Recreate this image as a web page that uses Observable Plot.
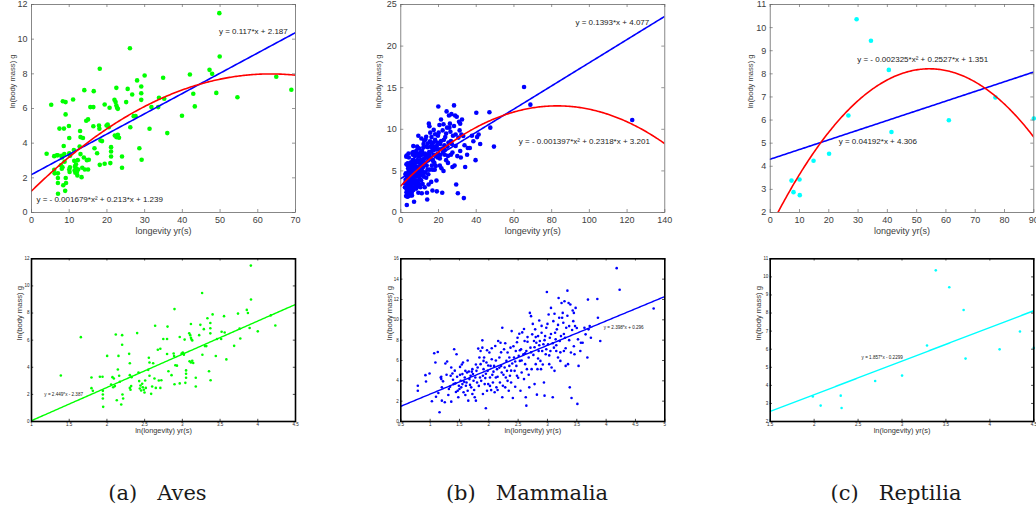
<!DOCTYPE html>
<html><head><meta charset="utf-8">
<script src="https://cdn.jsdelivr.net/npm/d3@7"></script>
<script src="https://cdn.jsdelivr.net/npm/@observablehq/plot@0.6"></script>
<style>
body{margin:0;background:#fff;}
#fig{position:relative;width:1036px;height:511px;overflow:hidden;background:#fff;}
#fig svg{position:absolute;}
</style></head><body><div id="fig"></div><script>
// ---------- DATA ----------
// Aves: [longevity (yr), ln(body mass)]
const aves = [[4.01,3.39],[5.23,6.22],[6.02,3.25],[6.02,2.46],[6.13,2.26],[6.73,3.30],[6.97,3.30],[7.00,2.26],[7.00,1.99],[7.00,1.70],
[7.03,1.08],[7.41,4.84],[7.81,2.73],[7.95,3.27],[8.03,2.53],[8.10,3.17],[8.21,2.61],[8.31,6.42],[8.42,1.57],[8.54,3.84],
[8.61,4.84],[8.69,3.37],[8.77,2.93],[8.93,1.25],[9.04,6.37],[9.04,5.66],[9.08,1.99],[9.16,1.70],[9.92,4.99],[10.01,4.30],
[10.01,3.42],[10.01,2.48],[10.10,2.34],[10.19,2.61],[10.24,3.27],[11.03,6.52],[11.23,3.61],[11.33,2.98],[11.43,2.43],[11.53,2.66],
[11.63,2.29],[11.79,2.78],[11.89,2.53],[12.05,2.34],[12.16,2.14],[12.27,3.02],[12.38,2.48],[12.77,3.81],[12.88,4.70],[12.99,4.35],
[12.99,3.37],[13.28,2.04],[13.46,2.58],[13.64,4.30],[13.88,3.17],[14.00,7.06],[14.13,2.48],[14.51,5.29],[14.70,3.02],
[15.0,5.37],[15.2,3.04],[15.0,2.48],[15.6,6.08],[16.4,6.08],[16.5,7.0],[16.4,4.98],[16.7,3.71],[17.4,3.42],[17.9,5.02],
[18.1,8.29],[18.0,4.83],[18.1,2.75],[18.3,4.15],[18.7,4.12],[19.4,6.23],[19.4,2.81],[19.9,5.02],[20.2,5.08],[20.5,4.92],
[20.7,6.04],[20.9,2.85],[21.1,3.77],[21.1,3.52],[21.1,3.23],[22.0,6.5],[22.5,7.19],[22.3,6.37],[22.5,6.17],[22.7,6.04],
[22.9,5.98],[22.1,4.44],[22.5,4.35],[22.9,4.48],[23.2,4.31],[24.0,3.23],[24.0,2.58],[25.1,6.37],[25.5,7.13],[26.1,9.48],
[26.2,4.92],[26.7,6.81],[27.1,5.56],[27.6,5.56],[28.0,7.62],[28.6,3.71],[29.1,7.27],[29.1,6.88],[29.1,6.5],[29.2,3.04],
[30.0,7.9],[31.3,4.83],[31.8,6.08],[33.8,6.62],[33.6,6.08],[34.9,7.77],[35.2,6.56],[36.0,4.58],[39.9,5.58],[42.0,7.96],
[42.9,6.85],[43.3,6.12],[47.2,8.23],[47.9,8.0],[49.0,6.9],[49.8,11.5],[49.9,9.0],[54.6,6.65],[64.9,7.83],[68.9,7.08]];

// Mammalia: [ln(longevity), ln(body mass)]
const mammalia = [[0.79,3.52],[0.79,3.03],[0.92,4.56],[0.93,3.94],[0.99,4.72],[1.03,1.99],[1.07,6.71],[1.09,5.80],[1.10,2.44],[1.13,6.84],
[1.14,2.80],[1.16,0.91],[1.18,4.33],[1.19,4.40],[1.19,4.17],[1.20,3.36],[1.20,2.05],[1.25,1.89],[1.26,5.70],[1.29,5.90],
[1.32,3.19],[1.34,3.42],[1.35,4.50],[1.36,5.31],[1.36,1.95],[1.38,4.72],[1.40,3.68],[1.41,7.10],[1.43,3.75],[1.45,6.61],
[1.47,3.03],[1.48,2.38],[1.49,3.52],[1.51,5.37],[1.51,4.59],[1.52,4.01],[1.53,3.36],[1.55,4.66],[1.55,3.68],[1.56,5.80],
[1.57,2.87],[1.59,4.33],[1.60,4.98],[1.61,3.52],[1.62,3.84],[1.63,4.82],[1.64,3.03],[1.65,2.05],[1.66,4.92],[1.67,4.17],
[1.69,4.50],[1.70,3.36],[1.72,2.70],[1.72,5.15],[1.73,4.66],[1.74,4.01],[1.76,2.38],[1.77,4.33],[1.78,2.05],[1.79,4.98],
[1.80,3.84],[1.81,5.31],[1.82,7.17],[1.84,6.29],[1.85,4.33],[1.86,6.94],[1.86,5.64],[1.89,7.98],[1.89,7.26],[1.90,4.50],
[1.91,5.96],[1.91,5.15],[1.93,3.68],[1.94,4.27],[1.95,1.30],[1.96,5.80],[1.97,7.00],[1.97,3.03],[1.98,4.98],[1.99,3.68],
[2.01,6.78],[2.02,4.33],[2.03,5.47],[2.04,3.09],[2.05,6.12],[2.06,4.59],[2.07,3.84],[2.09,5.47],[2.10,2.87],[2.11,7.43],
[2.12,4.33],[2.13,3.36],[2.14,5.15],[2.15,4.40],[2.16,7.92],[2.18,6.29],[2.19,3.84],[2.20,7.75],[2.21,5.47],[2.22,4.82],
[2.23,2.38],[2.23,9.22],[2.24,3.52],[2.26,7.10],[2.27,5.31],[2.28,3.36],[2.29,4.33],[2.30,5.96],[2.31,4.98],[2.32,6.78],
[2.34,3.03],[2.35,5.47],[2.36,4.50],[2.37,7.26],[2.38,3.84],[2.39,8.89],[2.40,5.70],[2.41,2.31],[2.43,6.29],[2.44,4.98],
[2.45,3.42],[2.46,6.94],[2.47,5.47],[2.48,4.50],[2.49,8.24],[2.51,6.45],[2.52,8.63],[2.53,5.96],[2.54,3.03],[2.55,7.10],
[2.56,4.82],[2.57,8.76],[2.59,6.61],[2.60,4.17],[2.61,7.92],[2.62,5.64],[2.63,2.38],[2.64,1.56],[2.64,6.94],[2.65,5.15],
[2.66,7.85],[2.68,6.29],[2.69,3.36],[2.70,10.68],[2.71,7.26],[2.72,10.36],[2.73,5.15],[2.74,8.57],[2.76,6.55],[2.77,7.92],
[2.78,3.68],[2.79,9.06],[2.80,5.64],[2.81,7.75],[2.82,2.64],[2.83,5.15],[2.84,8.40],[2.85,6.94],[2.86,9.93],[2.87,7.92],
[2.88,5.96],[2.89,5.15],[2.90,8.73],[2.91,6.94],[2.93,7.59],[2.94,3.84],[2.95,2.54],[2.96,8.40],[2.97,6.61],[2.98,9.22],
[2.99,12.74],[3.01,7.59],[3.02,10.52],[3.03,5.64],[3.04,8.24],[3.05,6.94],[3.06,11.17],[3.07,5.31],[3.09,2.38],[3.10,9.87],
[3.11,7.26],[3.12,4.98],[3.13,8.73],[3.14,8.08],[3.15,6.94],[3.16,9.06],[3.18,6.29],[3.19,12.15],[3.20,10.20],[3.21,7.92],
[3.22,5.96],[3.23,8.40],[3.24,11.66],[3.26,10.68],[3.27,9.71],[3.28,6.94],[3.29,11.82],[3.30,8.24],[3.31,5.47],[3.32,9.22],
[3.34,12.87],[3.35,5.64],[3.36,11.66],[3.37,9.38],[3.38,3.36],[3.39,11.50],[3.40,6.78],[3.41,2.31],[3.43,10.91],[3.44,9.87],
[3.45,10.68],[3.46,6.61],[3.47,9.38],[3.48,11.17],[3.51,1.73],[3.52,8.08],[3.53,5.47],[3.56,6.94],[3.57,7.75],[3.60,7.75],
[3.63,9.22],[3.65,8.57],[3.68,6.29],[3.69,11.99],[3.70,9.06],[3.72,9.38],[3.74,8.24],[3.85,12.05],[3.86,10.20],[3.90,7.92],
[4.18,15.08],[4.23,12.96],[4.81,11.11],
[1.22,3.95],[1.28,4.6],[1.31,2.6],[1.39,4.1],[1.42,5.0],[1.44,2.9],[1.46,4.4],[1.5,3.2],[1.54,5.6],[1.58,3.9],
[1.6,2.6],[1.64,6.0],[1.68,3.6],[1.71,4.9],[1.75,3.1],[1.78,5.6],[1.83,3.5],[1.87,4.0],[1.9,2.7],[1.92,6.3],
[1.95,4.7],[1.99,5.5],[2.02,3.5],[2.05,7.2],[2.08,4.9],[2.12,6.0],[2.15,3.1],[2.18,5.3],[2.21,6.8],[2.25,4.6],
[2.28,7.7],[2.32,4.0],[2.35,6.3],[2.38,5.0],[2.42,7.4],[2.45,5.9],[2.48,7.8],[2.5,4.3],[2.53,7.0],[2.56,6.0],
[2.6,9.1],[2.62,6.7],[2.66,8.3],[2.68,4.6],[2.72,6.8],[2.75,9.6],[2.78,7.3],[2.8,8.3],[2.84,6.2],[2.86,7.5],
[2.9,9.4],[2.92,5.6],[2.95,8.0],[2.98,7.1],[3.0,9.6],[3.03,6.5],[3.06,8.6],[3.09,7.7],[3.12,10.6],[3.15,7.5],
[3.18,9.5],[3.22,6.8],[3.25,10.2],[3.28,8.6],[3.31,7.2],[3.34,10.4],[3.37,8.0],[3.42,9.0],[3.45,7.4],[3.5,9.2]];

// Reptilia: [longevity (yr), ln(body mass)]
const reptilia = [[7.28,3.38],[7.96,2.88],[10.0,3.43],[10.1,2.75],[14.8,4.24],[20.1,4.54],[26.7,6.20],[29.5,10.36],[34.4,9.43],
[40.5,8.17],[41.4,5.48],[61.0,5.99],[76.9,6.98],[90.0,6.07]];

// fit coefficients (as printed on the chart)
const avesLin = [0.117, 2.187], avesQuad = [-0.001679, 0.213, 1.239], avesLog = [2.449, -2.387];
const mamLin = [0.1393, 4.077], mamQuad = [-0.001397, 0.2318, 3.201], mamLog = [2.398, 0.296];
const repLin = [0.04192, 4.306], repQuad = [-0.002325, 0.2527, 1.351], repLog = [1.857, -0.2299];

const avesEq = ["y = 0.117*x + 2.187", "y = - 0.001679*x² + 0.213*x + 1.239", "y = 2.449*x - 2.387"];
const mamEq = ["y = 0.1393*x + 4.077", "y = - 0.001397*x² + 0.2318*x + 3.201", "y = 2.398*x + 0.296"];
const repEq = ["y = 0.04192*x + 4.306", "y = - 0.002325*x² + 0.2527*x + 1.351", "y = 1.857*x - 0.2299"];

// ticks
const avesXTicks = [0,10,20,30,40,50,60,70], avesYTicks = [0,2,4,6,8,10,12];
const mamXTicks = [0,20,40,60,80,100,120,140], mamYTicks = [0,5,10,15,20,25];
const repXTicks = [0,10,20,30,40,50,60,70,80,90], repYTicks = [2,3,4,5,6,7,8,9,10,11];
const avesLXTicks = [1,1.5,2,2.5,3,3.5,4,4.5], avesLYTicks = [0,2,4,6,8,10,12];
const mamLXTicks = [0.5,1,1.5,2,2.5,3,3.5,4,4.5,5], mamLYTicks = [0,2,4,6,8,10,12,14,16];
const repLXTicks = [1.5,2,2.5,3,3.5,4,4.5], repLYTicks = [2,3,4,5,6,7,8,9,10,11];

const captions = ["(a)   Aves", "(b)   Mammalia", "(c)   Reptilia"];

// ---------- DRAWING ----------
const fig = document.getElementById("fig");
const FONT = "'Liberation Sans', Arial, Helvetica, sans-serif";
const lin = c => x => c[0] * x + c[1];
const quad = c => x => c[0] * x * x + c[1] * x + c[2];
const samples = (a, b) => d3.range(a, b + 1e-9, (b - a) / 200);

const TOP = {top: 0, height: 245, mt: 4, mb: 33, tickLen: 3, tickWidth: 0.7, frameColor: "#6a6a6a", frameWidth: 0.8,
  axisColor: "#6a6a6a", tickColor: "#404040", labelColor: "#404040", tickFont: 9, xPad: 4, yPad: 4,
  xLabel: "longevity yr(s)", xLabelDy: 21, xLabelFont: 9, yLabel: "ln(body mass) g", yLabelFont: 7.6};
const BOT = {top: 250, height: 190, mt: 8.3, mb: 19, tickLen: 2.2, tickWidth: 0.7, frameColor: "#000", frameWidth: 1.6,
  axisColor: "#000", tickColor: "#222", labelColor: "#333", tickFont: 4.5, xPad: 1.6, yPad: 2,
  xLabel: "ln(longevity) yr(s)", xLabelDy: 11, xLabelFont: 7.4, yLabel: "ln(body mass) g", yLabelFont: 7.6};
const COLS = [
  {left: 0, width: 310, ml: 31, mr: 15},
  {left: 340, width: 345, ml: 60.3, mr: 20.7},
  {left: 700, width: 336, ml: 69.7, mr: 2.7}
];

function panel(o) {
  const iw = o.width - o.ml - o.mr, ih = o.height - o.mt - o.mb;
  const fmt = d => String(d);
  const svg = Plot.plot({
    width: o.width, height: o.height,
    marginTop: o.mt, marginBottom: o.mb, marginLeft: o.ml, marginRight: o.mr,
    x: {domain: o.xDomain}, y: {domain: o.yDomain},
    style: {fontFamily: FONT, background: "transparent", overflow: "hidden"},
    marks: [
      ...o.marks,
      Plot.ruleX(o.xTicks, {stroke: o.axisColor, strokeWidth: o.tickWidth, insetTop: ih - o.tickLen}),
      Plot.ruleX(o.xTicks, {stroke: o.axisColor, strokeWidth: o.tickWidth, insetBottom: ih - o.tickLen}),
      Plot.ruleY(o.yTicks, {stroke: o.axisColor, strokeWidth: o.tickWidth, insetRight: iw - o.tickLen}),
      Plot.ruleY(o.yTicks, {stroke: o.axisColor, strokeWidth: o.tickWidth, insetLeft: iw - o.tickLen}),
      Plot.frame({stroke: o.frameColor, strokeWidth: o.frameWidth}),
      Plot.axisX({ticks: o.xTicks, tickFormat: fmt, tickSize: 0, tickPadding: o.xPad, fontSize: o.tickFont, fill: o.tickColor, label: null}),
      Plot.axisY({ticks: o.yTicks, tickFormat: fmt, tickSize: 0, tickPadding: o.yPad, fontSize: o.tickFont, fill: o.tickColor, label: null}),
      Plot.text([o.xLabel], {text: d => d, frameAnchor: "bottom", dy: o.xLabelDy, fontSize: o.xLabelFont, fill: o.labelColor}),
      Plot.text([o.yLabel], {text: d => d, frameAnchor: "left", dx: o.yLabelDx, rotate: -90, fontSize: o.yLabelFont, fill: o.labelColor})
    ]
  });
  svg.style.left = o.left + "px";
  svg.style.top = o.top + "px";
  fig.appendChild(svg);
}

function eqText(label, x, y, size) {
  return Plot.text([label], {text: d => d, x: () => x, y: () => y, textAnchor: "start", fontSize: size, fill: "#222"});
}

// top row: longevity vs ln(body mass) with linear + quadratic fits
function topPanel(col, data, xFn, color, xDomain, yDomain, xTicks, yTicks, linC, quadC, eqs, linPos, quadPos, yLabelDx) {
  const xs = samples(xDomain[0], xDomain[1]);
  panel({...TOP, ...COLS[col], xDomain, yDomain, xTicks, yTicks, yLabelDx,
    marks: [
      Plot.dot(data, {x: xFn, y: d => d[1], r: 2.3, fill: color, stroke: "none"}),
      Plot.line(xs, {x: d => d, y: lin(linC), stroke: "#0000ff", strokeWidth: 1.6, clip: true}),
      Plot.line(xs, {x: d => d, y: quad(quadC), stroke: "#ff0000", strokeWidth: 1.6, clip: true}),
      eqText(eqs[0], linPos[0], linPos[1], 8),
      eqText(eqs[1], quadPos[0], quadPos[1], 8)
    ]});
}
// bottom row: ln(longevity) vs ln(body mass) with linear fit
function botPanel(col, data, xFn, color, xDomain, yDomain, xTicks, yTicks, logC, eq, eqPos, yLabelDx) {
  const xs = samples(xDomain[0], xDomain[1]);
  panel({...BOT, ...COLS[col], xDomain, yDomain, xTicks, yTicks, yLabelDx,
    marks: [
      Plot.dot(data, {x: xFn, y: d => d[1], r: 1.3, fill: color, stroke: "none"}),
      Plot.line(xs, {x: d => d, y: lin(logC), stroke: color, strokeWidth: 1.4, clip: true}),
      eqText(eq, eqPos[0], eqPos[1], 4.6)
    ]});
}

topPanel(0, aves, d => d[0], "#00ff00", [0,70], [0,12], avesXTicks, avesYTicks, avesLin, avesQuad, avesEq, [49.7,10.46], [1.3,0.75], -19);
topPanel(1, mammalia, d => Math.exp(d[0]), "#0000ff", [0,140], [0,25], mamXTicks, mamYTicks, mamLin, mamQuad, mamEq, [92.6,22.9], [62.6,8.57], -22.6);
topPanel(2, reptilia, d => d[0], "#00ffff", [0,90], [2,11], repXTicks, repYTicks, repLin, repQuad, [repEq[0], repEq[1]], [23.4,5.09], [29.7,8.63], -19.7);

botPanel(0, aves, d => Math.log(d[0]), "#00ff00", [1,4.5], [0,12], avesLXTicks, avesLYTicks, avesLog, avesEq[2], [1.17,1.97], -12);
botPanel(1, mammalia, d => d[0], "#0000ff", [0.5,5], [0,16], mamLXTicks, mamLYTicks, mamLog, mamEq[2], [3.96,9.22], -11.3);
botPanel(2, reptilia, d => Math.log(d[0]), "#00ffff", [1.5,4.5], [2,11], repLXTicks, repLYTicks, repLog, repEq[2], [2.54,5.55], -11.4);

// captions
const capX = [157.5, 527, 896];
captions.forEach((c, i) => {
  const div = document.createElement("div");
  Object.assign(div.style, {
    position: "absolute", left: capX[i] + "px", top: "481px", transform: "translateX(-50%)",
    fontFamily: '"DejaVu Serif", serif', fontSize: "21px", lineHeight: "24px",
    color: "#1a1a1a", whiteSpace: "pre", letterSpacing: "0px"
  });
  div.textContent = c;
  fig.appendChild(div);
});
</script></body></html>
